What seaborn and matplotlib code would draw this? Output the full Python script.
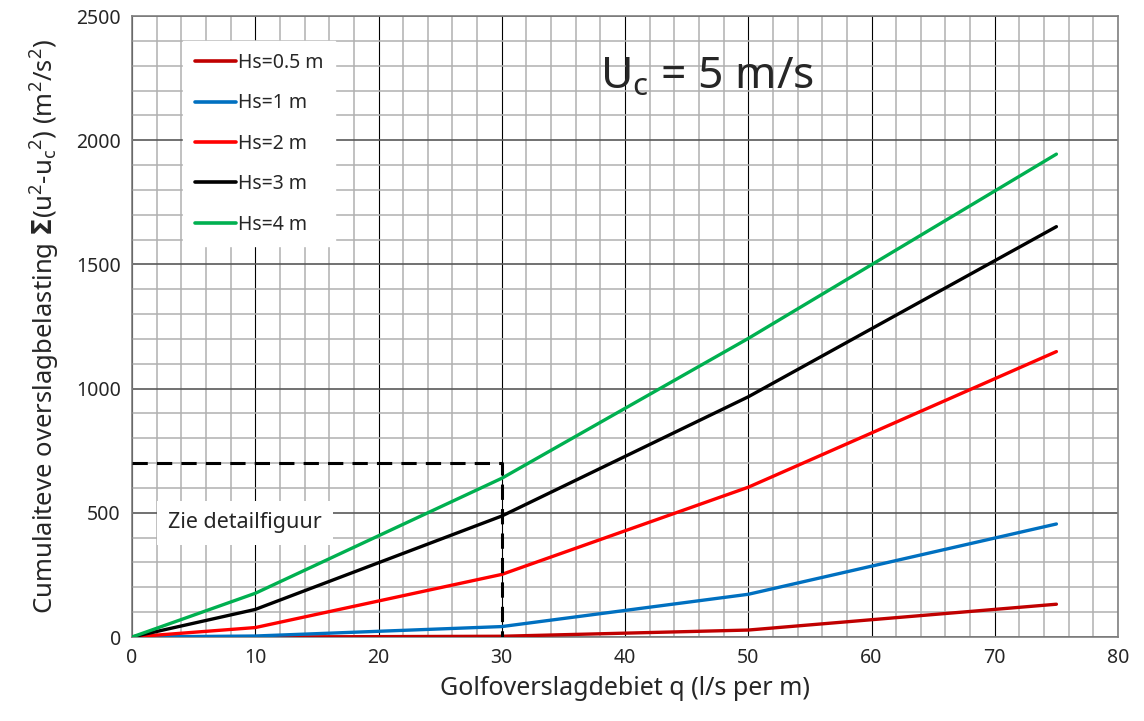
import numpy as np
import pandas as pd
import matplotlib
matplotlib.use('Agg')
import matplotlib.pyplot as plt
from matplotlib.ticker import MultipleLocator
import seaborn as sns

# data
q = [0, 10, 30, 50, 75]
hs_labels = ['Hs=0.5 m', 'Hs=1 m', 'Hs=2 m', 'Hs=3 m', 'Hs=4 m']
load_hs05 = [0, 0, 3, 28, 132]
load_hs1 = [0, 4, 42, 172, 455]
load_hs2 = [0, 38, 252, 603, 1149]
load_hs3 = [0, 111, 487, 967, 1652]
load_hs4 = [0, 176, 639, 1202, 1944]
colors = ['#C00000', '#0070C0', '#FF0000', '#000000', '#00B050']

# reference lines for "Zie detailfiguur"
ref_q = 30
ref_load = 700

series = [load_hs05, load_hs1, load_hs2, load_hs3, load_hs4]
df = pd.DataFrame({
    'q': q * len(hs_labels),
    'load': sum(series, []),
    'Hs': [lab for lab in hs_labels for _ in q],
})

sns.set_style('white')
plt.rcParams['font.family'] = ['Noto Sans', 'DejaVu Sans']
plt.rcParams['mathtext.fontset'] = 'custom'
plt.rcParams['mathtext.rm'] = 'Noto Sans'
plt.rcParams['mathtext.it'] = 'Noto Sans:italic'
plt.rcParams['mathtext.bf'] = 'DejaVu Sans:bold'

fig = plt.figure(figsize=(11.44, 7.21), dpi=100)
ax = fig.add_axes([0.1154, 0.1165, 0.8619, 0.8613])

sns.lineplot(data=df, x='q', y='load', hue='Hs', palette=dict(zip(hs_labels, colors)),
             linewidth=2.4, ax=ax, zorder=3)

ax.plot([0, ref_q, ref_q], [ref_load, ref_load, 0], color='black', linestyle=(0, (5, 3)),
        linewidth=2.2, zorder=4)

ax.set_xlim(0, 80)
ax.set_ylim(0, 2500)
ax.xaxis.set_major_locator(MultipleLocator(10))
ax.xaxis.set_minor_locator(MultipleLocator(2))
ax.yaxis.set_major_locator(MultipleLocator(500))
ax.yaxis.set_minor_locator(MultipleLocator(100))
ax.grid(which='minor', color='#b0b0b0', linewidth=1.1, zorder=0)
ax.grid(which='major', axis='x', color='#000000', linewidth=0.8, zorder=1)
ax.grid(which='major', axis='y', color='#595959', linewidth=1.2, zorder=1)
ax.set_axisbelow(True)
for sp in ax.spines.values():
    sp.set_color('#7f7f7f')
    sp.set_linewidth(1.2)
ax.tick_params(which='both', length=0, labelsize=14, pad=8)

ax.set_xlabel('Golfoverslagdebiet q (l/s per m)', fontsize=18, labelpad=6)
ax.set_ylabel(r'Cumulaiteve overslagbelasting $\mathbf{\Sigma}$(u$^{2}$-u$_{\mathrm{c}}$$^{2}$) (m$^{2}$/s$^{2}$)',
              fontsize=18.5, labelpad=10)

ax.text(38.0, 2250, r'U$_{\mathrm{c}}$ = 5 m/s', fontsize=32, va='center', ha='left', zorder=5)
ax.text(2.9, 459, 'Zie detailfiguur', fontsize=15.5, va='center', ha='left', zorder=5,
        bbox=dict(facecolor='white', edgecolor='none', pad=8))

leg = ax.legend(loc='upper left', bbox_to_anchor=(0.042, 0.975), fontsize=14,
                handlelength=2.1, handletextpad=0.1, labelspacing=1.05,
                frameon=True, fancybox=False, borderpad=0.6)
leg.get_frame().set_facecolor('white')
leg.get_frame().set_edgecolor('white')
leg.get_frame().set_alpha(1)
for line in leg.get_lines():
    line.set_linewidth(2.6)

fig.savefig('out.png', dpi=100)
